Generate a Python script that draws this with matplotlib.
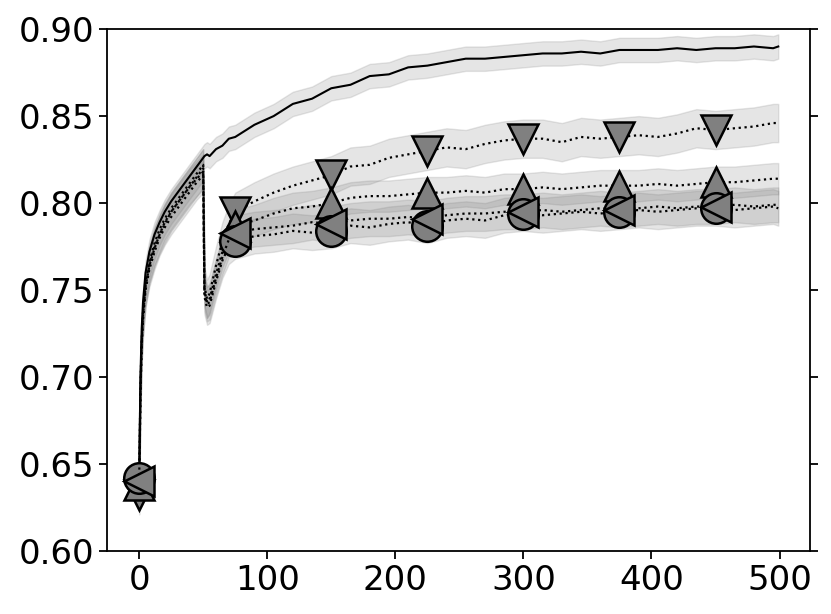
import numpy as np
import matplotlib
matplotlib.use('Agg')
import matplotlib.pyplot as plt

# x 위치 (에포크)
steps = [0, 1, 2, 3, 5, 8, 12, 16, 20, 25, 30, 35, 40, 45, 50, 51, 53, 55, 60, 65, 70,
         75, 90, 105, 120, 135, 150, 165, 180, 195, 210, 225, 240, 255, 270, 285, 300,
         315, 330, 345, 360, 375, 390, 405, 420, 435, 450, 465, 480, 495, 499]

# 실선 (기준)
base = [0.640, 0.700, 0.728, 0.743, 0.760, 0.772, 0.782, 0.789, 0.795, 0.801, 0.806, 0.811,
        0.816, 0.821, 0.826, 0.827, 0.828, 0.827, 0.831, 0.833, 0.837,
        0.838, 0.845, 0.850, 0.857, 0.860, 0.866, 0.868, 0.873, 0.874, 0.878, 0.879, 0.881,
        0.883, 0.883, 0.884, 0.885, 0.886, 0.886, 0.887, 0.886, 0.888, 0.888, 0.888, 0.889,
        0.888, 0.889, 0.889, 0.890, 0.889, 0.890]

# 점선 (마커별)
s_down = [0.632, 0.690, 0.720, 0.735, 0.752, 0.765, 0.775, 0.782, 0.788, 0.795, 0.800, 0.805,
          0.810, 0.815, 0.820, 0.752, 0.745, 0.748, 0.764, 0.778, 0.788,
          0.795, 0.801, 0.806, 0.810, 0.813, 0.816, 0.821, 0.822, 0.826, 0.828, 0.830, 0.832,
          0.831, 0.834, 0.836, 0.837, 0.837, 0.835, 0.838, 0.837, 0.838, 0.839, 0.838, 0.840,
          0.843, 0.842, 0.843, 0.844, 0.846, 0.846]
s_up = [0.638, 0.695, 0.722, 0.737, 0.754, 0.766, 0.777, 0.785, 0.791, 0.797, 0.802, 0.807,
        0.812, 0.817, 0.822, 0.750, 0.743, 0.745, 0.759, 0.772, 0.781,
        0.787, 0.790, 0.794, 0.797, 0.798, 0.800, 0.803, 0.804, 0.804, 0.805, 0.806, 0.806,
        0.807, 0.806, 0.808, 0.808, 0.809, 0.808, 0.809, 0.810, 0.810, 0.810, 0.811, 0.810,
        0.811, 0.812, 0.812, 0.813, 0.814, 0.814]
s_circle = [0.642, 0.690, 0.718, 0.733, 0.750, 0.762, 0.772, 0.780, 0.786, 0.792, 0.797, 0.802,
            0.807, 0.812, 0.816, 0.746, 0.740, 0.741, 0.755, 0.767, 0.775,
            0.778, 0.781, 0.782, 0.784, 0.783, 0.784, 0.787, 0.786, 0.788, 0.789, 0.787, 0.790,
            0.791, 0.790, 0.793, 0.794, 0.793, 0.794, 0.795, 0.794, 0.795, 0.796, 0.795, 0.796,
            0.797, 0.797, 0.796, 0.797, 0.798, 0.797]
s_left = [0.640, 0.692, 0.720, 0.735, 0.752, 0.764, 0.774, 0.782, 0.789, 0.795, 0.800, 0.805,
          0.810, 0.814, 0.818, 0.748, 0.742, 0.743, 0.757, 0.769, 0.779,
          0.783, 0.785, 0.786, 0.787, 0.789, 0.788, 0.790, 0.791, 0.791, 0.792, 0.791, 0.793,
          0.794, 0.794, 0.795, 0.795, 0.796, 0.795, 0.796, 0.797, 0.796, 0.797, 0.798, 0.797,
          0.798, 0.798, 0.799, 0.798, 0.799, 0.799]

# 표준편차 (음영 폭)
spread = {'base': 0.007, 'v': 0.011, '^': 0.009, 'o': 0.010, '<': 0.010}

marker_steps = [0, 75, 150, 225, 300, 375, 450]

plt.rcParams['font.family'] = 'DejaVu Sans'
plt.rcParams['font.size'] = 24.5

fig = plt.figure(figsize=(8.31, 6.14), dpi=100)
ax = fig.add_axes([0.129, 0.1026, 0.846, 0.850])

x = np.array(steps)
mark_idx = [steps.index(m) for m in marker_steps]

# 음영
ax.fill_between(x, np.array(base) - spread['base'], np.array(base) + spread['base'],
                color='gray', alpha=0.2, linewidth=1)
for vals, key in [(s_down, 'v'), (s_up, '^'), (s_circle, 'o'), (s_left, '<')]:
    v = np.array(vals)
    ax.fill_between(x, v - spread[key], v + spread[key], color='gray', alpha=0.2, linewidth=1)

ax.plot(x, base, color='black', linestyle='-', linewidth=1.5)
for vals, key in [(s_down, 'v'), (s_up, '^'), (s_circle, 'o'), (s_left, '<')]:
    ax.plot(x, vals, color='black', linestyle=':', linewidth=1.6,
            marker=key, markevery=mark_idx, markersize=22,
            markerfacecolor='gray', markeredgecolor='black', markeredgewidth=1.8)

ax.set_ylim(0.60, 0.90)
ax.set_yticks([0.60, 0.65, 0.70, 0.75, 0.80, 0.85, 0.90])
ax.set_yticklabels(['0.60', '0.65', '0.70', '0.75', '0.80', '0.85', '0.90'])
ax.set_xticks([0, 100, 200, 300, 400, 500])
ax.tick_params(axis='y', right=True, length=6, width=1.3)
ax.tick_params(axis='x', length=6, width=1.3)
for sp in ax.spines.values():
    sp.set_linewidth(1.3)

fig.savefig('out.png', dpi=100)
